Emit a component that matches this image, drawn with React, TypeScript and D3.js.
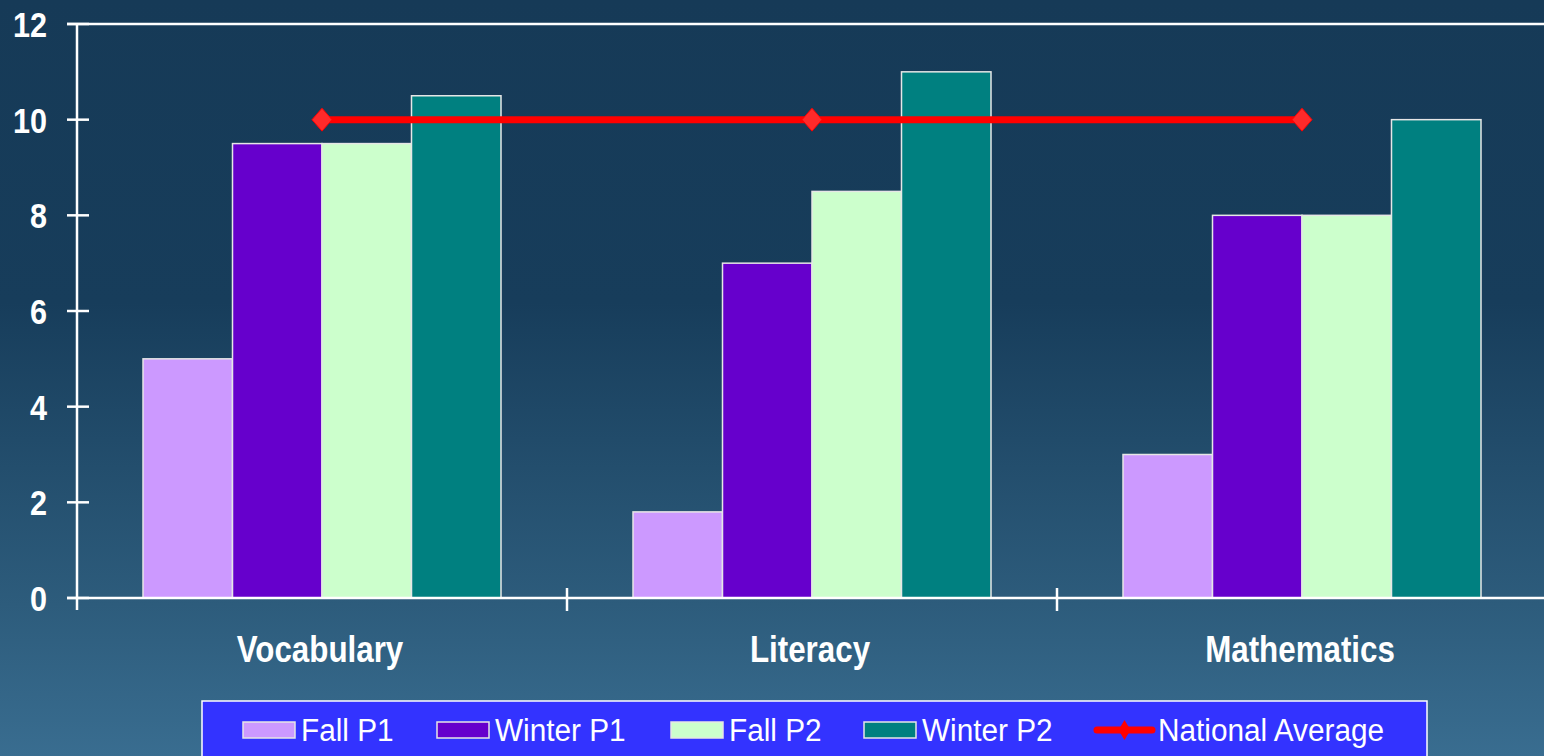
import React from "react";
import * as d3 from "d3";

const categories = ["Vocabulary", "Literacy", "Mathematics"];
const seriesNames = ["Fall P1", "Winter P1", "Fall P2", "Winter P2"];
const fallP1 = [5, 1.8, 3];
const winterP1 = [9.5, 7, 8];
const fallP2 = [9.5, 8.5, 8];
const winterP2 = [10.5, 11, 10];
const nationalAverage = [10, 10, 10];
const yTicks = [0, 2, 4, 6, 8, 10, 12];
const lineName = "National Average";

const seriesValues = [fallP1, winterP1, fallP2, winterP2];
const seriesColors = ["#cc99ff", "#6600cc", "#ccffcc", "#008080"];

const W = 1544;
const H = 756;
const FONT = "'Liberation Sans', Arial, sans-serif";

// Horizontally condensed text: placed by a translate, then squeezed on x.
function NarrowText(props: {
  x: number;
  y: number;
  sx: number;
  size: number;
  bold?: boolean;
  anchor?: "start" | "middle" | "end";
  children: React.ReactNode;
}) {
  const { x, y, sx, size, bold, anchor = "start", children } = props;
  return (
    <g transform={`translate(${x},${y}) scale(${sx},1)`}>
      <text
        x={0}
        y={0}
        textAnchor={anchor}
        fill="#fff"
        fontFamily={FONT}
        fontWeight={bold ? "bold" : "normal"}
        fontSize={size}
      >
        {children}
      </text>
    </g>
  );
}

export default function App() {
  const x = d3.scaleBand<string>().domain(categories).range([77, 1547]);
  const xs = d3.scaleBand<string>().domain(seriesNames).range([66, 424]);
  const y = d3.scaleLinear().domain([0, 12]).range([598, 24]);

  const linePts: [number, number][] = categories.map((c, i) => [
    (x(c) ?? 0) + x.bandwidth() / 2,
    y(nationalAverage[i]),
  ]);
  const line = d3.line();

  const diamond = (cx: number, cy: number, w: number, h: number) =>
    `M${cx},${cy - h / 2}L${cx + w / 2},${cy}L${cx},${cy + h / 2}L${cx - w / 2},${cy}Z`;

  // legend layout
  const legendSwatchX = [243, 437, 671, 864];
  const legendLine = { x0: 1097, x1: 1152 };
  const legendY = 730;

  return (
    <svg
      width={W}
      height={H}
      style={{ position: "absolute", left: 0, top: 0, display: "block" }}
    >
      <defs>
        <linearGradient id="bg" x1="0" y1="0" x2="0" y2={H} gradientUnits="userSpaceOnUse">
          <stop offset="0" stopColor="#163a57" />
          <stop offset="0.4" stopColor="#173d5b" />
          <stop offset="0.8" stopColor="#2d5c7c" />
          <stop offset="1" stopColor="#396d90" />
        </linearGradient>
      </defs>
      <rect x={0} y={0} width={W} height={H} fill="url(#bg)" />

      {/* bars */}
      {categories.map((c, ci) => (
        <g key={c}>
          {seriesNames.map((s, si) => {
            const v = seriesValues[si][ci];
            const bx = (x(c) ?? 0) + (xs(s) ?? 0);
            return (
              <rect
                key={s}
                x={bx}
                y={y(v)}
                width={xs.bandwidth()}
                height={y(0) - y(v)}
                fill={seriesColors[si]}
                stroke="#e6e6e6"
                strokeWidth={1.5}
              />
            );
          })}
        </g>
      ))}

      {/* top border of plot area */}
      <line x1={67} x2={W} y1={y(12)} y2={y(12)} stroke="#fff" strokeWidth={2.5} />

      {/* y axis */}
      <line x1={77} x2={77} y1={y(12)} y2={610} stroke="#fff" strokeWidth={2.5} />
      {yTicks.map((t) => (
        <g key={t}>
          <line x1={67} x2={89} y1={y(t)} y2={y(t)} stroke="#fff" strokeWidth={2.5} />
          <NarrowText x={47} y={y(t) + 13} sx={0.85} size={36} bold anchor="end">
            {t}
          </NarrowText>
        </g>
      ))}

      {/* x axis */}
      <line x1={67} x2={W} y1={y(0)} y2={y(0)} stroke="#fff" strokeWidth={2.5} />
      {categories.slice(1).map((c) => (
        <line key={c} x1={x(c)} x2={x(c)} y1={588} y2={611} stroke="#fff" strokeWidth={2.5} />
      ))}
      {categories.map((c) => (
        <NarrowText
          key={c}
          x={(x(c) ?? 0) + x.bandwidth() / 2 - 2}
          y={662}
          sx={0.87}
          size={36}
          bold
          anchor="middle"
        >
          {c}
        </NarrowText>
      ))}

      {/* national average line */}
      <path d={line(linePts) ?? ""} fill="none" stroke="#ff0000" strokeWidth={7} />
      {linePts.map(([px, py], i) => (
        <path key={i} d={diamond(px, py, 20, 23)} fill="#ff2a2a" stroke="#ff0000" strokeWidth={1} />
      ))}

      {/* legend */}
      <rect x={202} y={701} width={1225} height={70} fill="#3333ff" stroke="#fff" strokeWidth={1.5} />
      {seriesNames.map((s, i) => (
        <g key={s}>
          <rect
            x={legendSwatchX[i]}
            y={legendY - 8}
            width={52}
            height={16}
            fill={seriesColors[i]}
            stroke="#e6e6e6"
            strokeWidth={1.5}
          />
          <NarrowText x={legendSwatchX[i] + 58} y={legendY + 11} sx={0.96} size={31}>
            {s}
          </NarrowText>
        </g>
      ))}
      <line
        x1={legendLine.x0}
        x2={legendLine.x1}
        y1={legendY}
        y2={legendY}
        stroke="#ff0000"
        strokeWidth={7}
        strokeLinecap="round"
      />
      <path d={diamond((legendLine.x0 + legendLine.x1) / 2, legendY, 12, 20)} fill="#ff0000" />
      <NarrowText x={legendLine.x1 + 6} y={legendY + 11} sx={0.96} size={31}>
        {lineName}
      </NarrowText>
    </svg>
  );
}
